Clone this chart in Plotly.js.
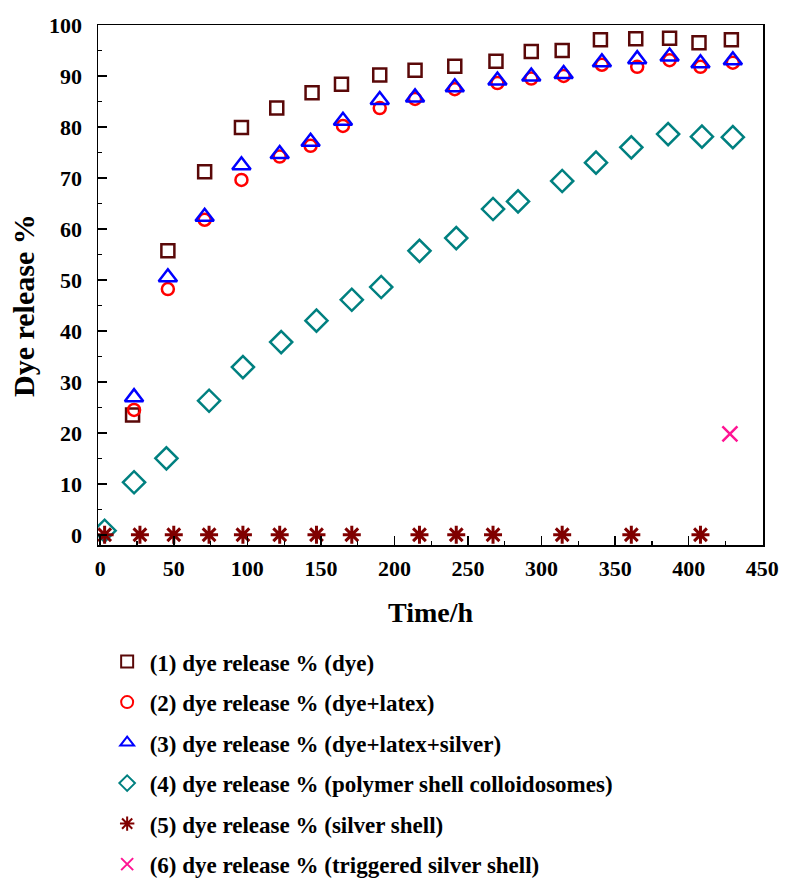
<!DOCTYPE html>
<html>
<head>
<meta charset="utf-8">
<script src="https://cdn.plot.ly/plotly-3.0.1.min.js"></script>
<style>html,body{margin:0;padding:0;background:#fff;}#chart{width:785px;height:882px;}</style>
</head>
<body>
<div id="chart"></div>
<script>
// Series 1: dye
const dyeX = [22, 46, 71, 96, 120, 144, 164, 190, 214, 241, 269, 293, 314, 340, 364, 387, 407, 429];
const dyeY = [23.5, 55.7, 71.2, 79.9, 83.7, 86.7, 88.4, 90.2, 91.1, 91.9, 92.9, 94.8, 95.0, 97.1, 97.3, 97.4, 96.5, 97.1];
// Series 2: dye+latex
const latexX = [23, 46, 71, 96, 122, 143, 165, 190, 214, 241, 270, 293, 315, 341, 365, 387, 408, 430];
const latexY = [24.5, 48.2, 61.8, 69.6, 74.2, 76.3, 80.2, 83.7, 85.5, 87.4, 88.6, 89.5, 90.0, 92.2, 91.8, 93.1, 91.8, 92.6];
// Series 3: dye+latex+silver
const silverX = [23, 46, 71, 96, 122, 143, 165, 190, 214, 241, 270, 293, 315, 341, 365, 387, 408, 430];
const silverY = [27.0, 50.5, 62.4, 72.5, 74.7, 77.1, 81.2, 85.3, 85.8, 87.8, 89.1, 89.9, 90.4, 92.7, 93.3, 93.8, 92.5, 93.1];
// Series 4: polymer shell colloidosomes
const polyX = [3, 23, 45, 74, 97, 123, 147, 171, 191, 217, 242, 267, 284, 314, 337, 361, 386, 409, 430];
const polyY = [0.8, 10.3, 15.0, 26.3, 32.9, 37.8, 42.0, 46.1, 48.6, 55.7, 58.2, 63.9, 65.4, 69.4, 73.0, 76.0, 78.6, 78.1, 78.0];
// Series 5: silver shell
const shellX = [3, 27, 50, 74, 97, 122, 147, 171, 217, 242, 267, 314, 361, 408];
const shellY = [0, 0, 0, 0, 0, 0, 0, 0, 0, 0, 0, 0, 0, 0];
// Series 6: triggered silver shell
const trigX = [428];
const trigY = [19.8];

const names = [
  "(1) dye release % (dye)",
  "(2) dye release % (dye+latex)",
  "(3) dye release % (dye+latex+silver)",
  "(4) dye release % (polymer shell colloidosomes)",
  "(5) dye release % (silver shell)",
  "(6) dye release % (triggered silver shell)"
];
const xTicks = [0, 50, 100, 150, 200, 250, 300, 350, 400, 450];
const yTicks = [0, 10, 20, 30, 40, 50, 60, 70, 80, 90, 100];
const xTitle = "Time/h";
const yTitle = "Dye release %";

function tr(x, y, name, symbol, color, size, lw, grp) {
  return {
    x: x, y: y, name: "<b>" + name + "</b>", type: "scatter", mode: "markers",
    legendgroup: grp,
    marker: {symbol: symbol, size: size, color: color, line: {color: color, width: lw}}
  };
}

const data = [
  tr(dyeX, dyeY, names[0], "square-open", "#5a0808", 13, 2.5, "g1"),
  tr(latexX, latexY, names[1], "circle-open", "#ff0000", 12, 2.5, "g2"),
  tr(silverX, silverY, names[2], "triangle-up-open", "#0000ff", 16, 2.5, "g3"),
  tr(polyX, polyY, names[3], "diamond-open", "#008080", 17, 2.5, "g4"),
  tr(shellX, shellY, names[4], "asterisk-open", "#800000", 15, 3, "g5"),
  tr(trigX, trigY, names[5], "x-thin-open", "#ff1493", 15, 2.5, "g6")
];

const fontFam = "Liberation Serif, Times New Roman, serif";

const layout = {
  width: 785, height: 882,
  margin: {l: 98, r: 22, t: 25, b: 337, autoexpand: false},
  paper_bgcolor: "#fff", plot_bgcolor: "#fff",
  font: {family: fontFam, color: "#000", size: 23},
  showlegend: true,
  legend: {
    x: 0.01, y: -0.183, xanchor: "left", yanchor: "top",
    font: {family: fontFam, size: 23, color: "#000"},
    traceorder: "grouped", tracegroupgap: 7.6,
    itemsizing: "constant", itemwidth: 35,
    bgcolor: "rgba(0,0,0,0)", borderwidth: 0
  },
  xaxis: {
    range: [-1.5, 450.5],
    tickvals: xTicks, ticktext: xTicks.map(String),
    ticks: "inside", ticklen: 9, tickwidth: 1.5, tickcolor: "#000",
    minor: {dtick: 25, tick0: 0, ticks: "inside", ticklen: 4, tickwidth: 1.2, tickcolor: "#000"},
    showline: true, linecolor: "#000", linewidth: 1.5, mirror: true,
    showgrid: false, zeroline: false,
    tickfont: {family: fontFam, size: 22, weight: "bold", color: "#000"},
    ticklabelstandoff: 3,
    title: {text: "<b>" + xTitle + "</b>", font: {family: fontFam, size: 28, color: "#000"}, standoff: 22}
  },
  yaxis: {
    range: [-2, 100],
    tickvals: yTicks, ticktext: yTicks.map(String),
    ticks: "inside", ticklen: 9, tickwidth: 1.5, tickcolor: "#000",
    minor: {dtick: 5, tick0: 0, ticks: "inside", ticklen: 4, tickwidth: 1.2, tickcolor: "#000"},
    showline: true, linecolor: "#000", linewidth: 1.5, mirror: true,
    showgrid: false, zeroline: false,
    tickfont: {family: fontFam, size: 22, weight: "bold", color: "#000"},
    ticklabelstandoff: 10
  },
  annotations: [{
    text: "<b>" + yTitle + "</b>", textangle: -90, showarrow: false,
    xref: "paper", yref: "paper", x: (23 - 98) / 665, y: (545 - 306) / 520,
    xanchor: "center", yanchor: "middle",
    font: {family: fontFam, size: 30, color: "#000"}
  }]
};

Plotly.newPlot("chart", data, layout, {displayModeBar: false, staticPlot: true});
</script>
</body>
</html>
